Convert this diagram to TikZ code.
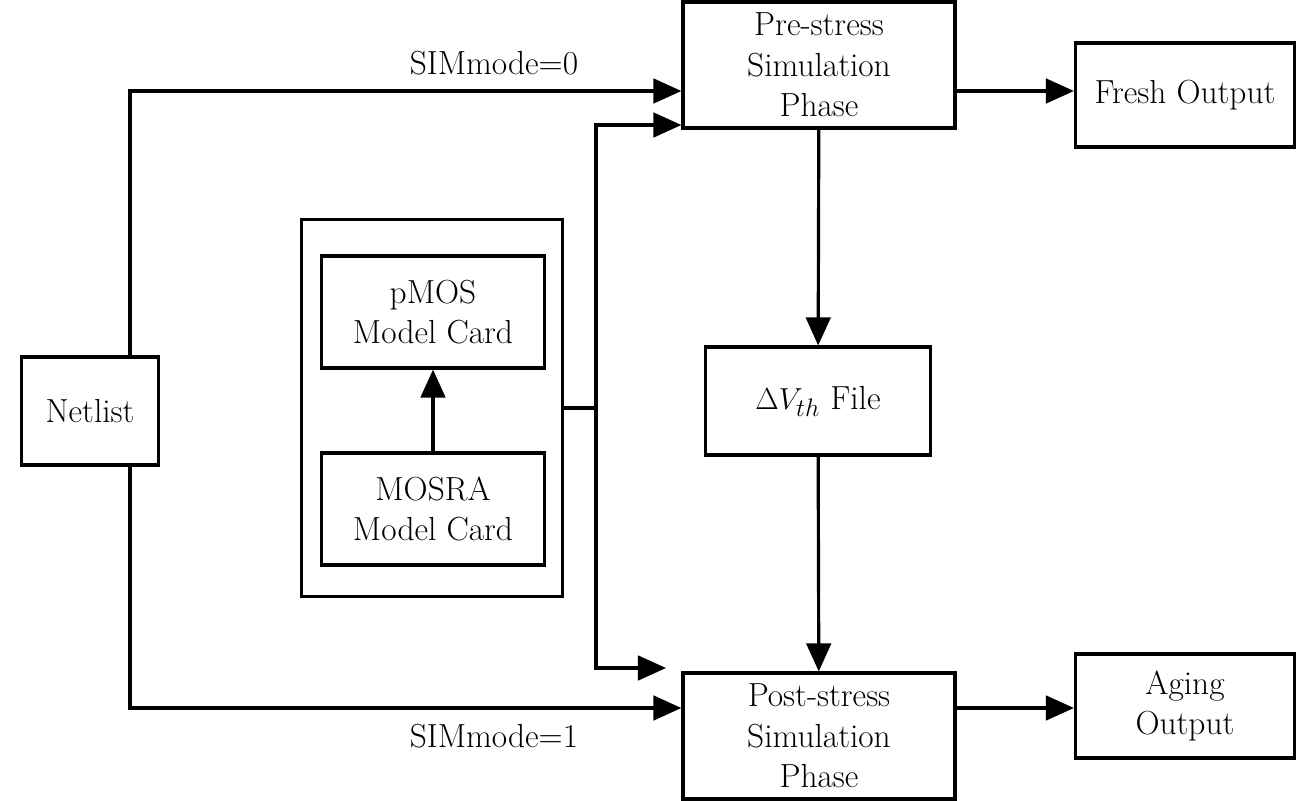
\documentclass[tikz,border=0pt]{standalone}
\usetikzlibrary{arrows.meta,positioning}
\begin{document}
\begin{tikzpicture}[x=0.02cm,y=-0.02cm,line width=1.8pt,
   box/.style={draw,line width=1.8pt,align=center,inner sep=0pt,font=\fontsize{19}{23}\selectfont},
   >={Triangle[length=16pt,width=14pt]}]
   \useasboundingbox (0,0) rectangle (1316,801);
   \node[box,minimum width=137*0.02cm,minimum height=108*0.02cm] (netlist) at (90,411) {Netlist};
   \node[box,minimum width=272*0.02cm,minimum height=126*0.02cm] (pre) at (819,65) {Pre-stress\\Simulation\\Phase};
   \node[box,minimum width=219*0.02cm,minimum height=104*0.02cm] (fresh) at (1185,95) {Fresh Output};
   \node[box,minimum width=225*0.02cm,minimum height=108*0.02cm] (dvth) at (818,401) {$\Delta V_{th}$ File};
   \node[box,minimum width=272*0.02cm,minimum height=126*0.02cm] (post) at (819,736) {Post-stress\\Simulation\\Phase};
   \node[box,minimum width=219*0.02cm,minimum height=104*0.02cm] (aging) at (1185,706) {Aging\\Output};
   \node[box,minimum width=261*0.02cm,minimum height=377*0.02cm] (lib) at (432,408) {};
   \node[box,minimum width=223*0.02cm,minimum height=112*0.02cm] (pmos) at (433,312) {pMOS\\Model Card};
   \node[box,minimum width=223*0.02cm,minimum height=112*0.02cm] (mosra) at (433,509) {MOSRA\\Model Card};
   \coordinate (split) at (596,408);
   % connectors
   \draw[->] (mosra) -- (pmos);
   \draw[->] (netlist.north -| 130,0) |- (pre.west |- 0,91) node[pos=0.83,above=5pt,font=\fontsize{19}{23}\selectfont] {SIMmode=0};
   \draw[->] (netlist.south -| 130,0) |- (post.west |- 0,708) node[pos=0.83,below=5pt,font=\fontsize{19}{23}\selectfont] {SIMmode=1};
   \draw (lib.east |- split) -- (split);
   \draw[->] (split) |- (pre.west |- 0,125);
   \draw[->] (split) |- (666,668);
   \draw[->] (pre.east |- 0,91) -- (fresh.west |- 0,91);
   \draw[->] (post.east |- 0,708) -- (aging.west |- 0,708);
   \draw[->] (pre) -- (dvth);
   \draw[->] (dvth) -- (post);
\end{tikzpicture}
\end{document}
